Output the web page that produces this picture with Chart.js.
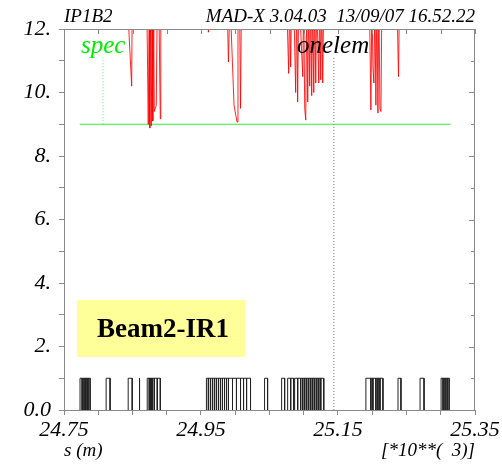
<!DOCTYPE html>
<html>
<head>
<meta charset="utf-8">
<script src="https://cdn.jsdelivr.net/npm/chart.js@4.4.0/dist/chart.umd.min.js"></script>
<style>
  html, body { margin: 0; padding: 0; background: #fff; }
  #wrap { width: 502px; height: 464px; }
</style>
</head>
<body>
<div id="wrap"><canvas id="myChart" width="502" height="464"></canvas></div>
<script>
// s axis in km (plotted as *10**3 m)
var sMin = 24.75, sMax = 25.35;
var yMin = 0, yMax = 12;

// red curve (goes off the top between the dips)
var redS = [24.75, 24.8422, 24.8488, 24.8496,
	24.8708, 24.8730, 24.8745, 24.8752, 24.8767, 24.8774, 24.8788, 24.8796, 24.8810, 24.8818, 24.8847, 24.8862, 24.8884, 24.8906, 24.8913,
	24.9594, 24.9608, 24.9623,
	24.9879, 24.9901, 24.9923, 24.9982, 25.0026, 25.0040, 25.0062, 25.0077, 25.0091, 25.0113, 25.0121, 25.0128,
	25.0750, 25.0780, 25.0794, 25.0809, 25.0824, 25.0853, 25.0882, 25.0897, 25.0911, 25.0926, 25.0955, 25.0985, 25.0999,
	25.1014, 25.1029, 25.1043, 25.1058, 25.1072, 25.1087, 25.1102, 25.1116, 25.1131, 25.1146, 25.1160, 25.1175, 25.1190,
	25.1219, 25.1234, 25.1248, 25.1263, 25.1277, 25.1292,
	25.1958, 25.1980, 25.1995, 25.2010, 25.2024, 25.2039, 25.2053, 25.2068, 25.2083, 25.2097, 25.2112, 25.2127, 25.2141,
	25.2361, 25.2383, 25.2398, 25.35];
var redY = [13, 13, 10.2, 13,
	13, 9.0, 13, 8.88, 13, 8.95, 13, 9.1, 12, 9.4, 9.6, 13, 13, 9.17, 13,
	13, 11.9, 13,
	13, 10.96, 13, 9.6, 9.07, 13, 13, 9.5, 13, 13, 12, 13,
	13, 10.6, 13, 10.8, 13, 13, 10.0, 13, 9.7, 13, 12, 10.5, 13,
	9.5, 9.13, 13, 9.7, 13, 10.2, 13, 9.9, 13, 10.0, 13, 10.3, 13,
	10.3, 13, 10.4, 13, 10.3, 13,
	13, 9.45, 13, 10.8, 10.3, 13, 9.6, 13, 9.35, 13, 9.5, 9.4, 13,
	13, 10.5, 13, 13];

// element boxes along the beam line (start / end, height 1)
var elemStart = [24.7734, 24.7771, 24.7793, 24.7815, 24.7837, 24.7851, 24.8115, 24.8437, 24.8598,
	24.8715, 24.8745, 24.8759, 24.8774, 24.8788, 24.8818, 24.8862,
	24.9579, 24.9608, 24.9638, 24.9667, 24.9696, 24.9725, 24.9755, 24.9784, 24.9813, 24.9843, 24.9872, 24.9901, 24.9960, 25.0018, 25.0077, 25.0121, 25.0165,
	25.0428,
	25.0677, 25.0765, 25.0809, 25.0867, 25.0911, 25.0955, 25.0985, 25.1014, 25.1043, 25.1072, 25.1102, 25.1131, 25.1160, 25.1190, 25.1219, 25.1248,
	25.1907, 25.1980, 25.2009, 25.2053, 25.2083, 25.2112,
	25.2376, 25.2698, 25.3005, 25.3034, 25.3063, 25.3093];
var elemEnd = [24.7764, 24.7793, 24.7815, 24.7837, 24.7851, 24.7881, 24.8173, 24.8496, 24.8605,
	24.8745, 24.8759, 24.8774, 24.8788, 24.8818, 24.8862, 24.8906,
	24.9608, 24.9638, 24.9667, 24.9696, 24.9725, 24.9755, 24.9784, 24.9813, 24.9843, 24.9872, 24.9901, 24.9960, 25.0018, 25.0077, 25.0121, 25.0165, 25.0223,
	25.0472,
	25.0721, 25.0809, 25.0853, 25.0911, 25.0955, 25.0985, 25.1014, 25.1043, 25.1072, 25.1102, 25.1131, 25.1160, 25.1190, 25.1219, 25.1248, 25.1292,
	25.1980, 25.2009, 25.2053, 25.2083, 25.2112, 25.2156,
	25.2419, 25.2756, 25.3034, 25.3063, 25.3093, 25.3122];

// green horizontal line
var greenS = [24.773, 25.314];
var greenY = [9, 9];
// marker lines
var specS = 24.807, specTop = 11.1, specBottom = 9;
var onelemS = 25.144, onelemTop = 11.1, onelemBottom = 0;

var xTickLabels = ['24.75', '24.95', '25.15', '25.35'];
var yTickLabels = ['0.0', '2.', '4.', '6.', '8.', '10.', '12.'];

function toPts(xs, ys) {
	var out = [];
	for (let i = 0; i < xs.length; i++) out.push({x: xs[i], y: ys[i]});
	return out;
}

var elemPts = [];
for (let i = 0; i < elemStart.length; i++) {
	elemPts.push({x: elemStart[i], y: 0});
	elemPts.push({x: elemStart[i], y: 1});
	elemPts.push({x: elemEnd[i], y: 1});
	elemPts.push({x: elemEnd[i], y: 0});
	elemPts.push({x: elemEnd[i], y: null});
}

var gray = '#8a8a8a';

var framePlugin = {
	id: 'frame',
	afterDraw: function(chart) {
		var c = chart.ctx, a = chart.chartArea;
		var xs = chart.scales.x, ys = chart.scales.y;
		c.save();
		c.strokeStyle = gray;
		c.lineWidth = 1;
		c.beginPath();
		c.moveTo(a.left, a.top + 0.5); c.lineTo(a.right, a.top + 0.5);
		c.moveTo(a.right - 0.5, a.top); c.lineTo(a.right - 0.5, a.bottom);
		// inward ticks, top and right
		for (let k = 0; k <= 12; k++) {
			let px = Math.round(xs.getPixelForValue(sMin + k * 0.05)) + 0.5;
			c.moveTo(px, a.top); c.lineTo(px, a.top + 5);
		}
		for (let k = 0; k <= 12; k++) {
			let py = Math.round(ys.getPixelForValue(k)) + 0.5;
			c.moveTo(a.right, py); c.lineTo(a.right - (k % 2 === 0 ? 6 : 4), py);
		}
		c.stroke();

		// header and footer texts
		c.fillStyle = '#000';
		c.font = 'italic 19px "Liberation Serif", serif';
		c.textBaseline = 'alphabetic';
		c.textAlign = 'left';
		c.fillText('IP1B2', 64, 22);
		c.textAlign = 'right';
		c.fillText('MAD-X 3.04.03  13/09/07 16.52.22', a.right, 22);
		c.textAlign = 'left';
		c.fillText('s (m)', 64, 456);
		c.textAlign = 'right';
		c.fillText('[*10**(  3)]', a.right, 456);

		// labels of marker lines
		c.font = 'italic 25px "Liberation Serif", serif';
		c.textAlign = 'left';
		c.fillStyle = '#00ee00';
		c.fillText('spec', 81, 53);
		c.fillStyle = '#000';
		c.fillText('onelem', 297, 53);

		// beam label box
		c.fillStyle = '#ffff99';
		c.fillRect(77, 300, 168, 57);
		c.fillStyle = '#000';
		c.font = 'bold 27px "Liberation Serif", serif';
		c.textAlign = 'center';
		c.textBaseline = 'middle';
		c.fillText('Beam2-IR1', 163, 330);
		c.restore();
	}
};

var ctx = document.getElementById('myChart');
var myChart = new Chart(ctx, {
	type: 'line',
	data: {
		datasets: [{
			label: 'beta',
			data: toPts(redS, redY),
			borderColor: 'rgba(255,0,0,0.85)',
			borderWidth: 1,
			pointRadius: 0
		}, {
			label: 'elements',
			data: elemPts,
			borderColor: '#222',
			borderWidth: 1,
			pointRadius: 0,
			spanGaps: false
		}, {
			label: 'green',
			data: toPts(greenS, greenY),
			borderColor: '#33ee33',
			borderWidth: 1,
			pointRadius: 0
		}, {
			label: 'spec',
			data: [{x: specS, y: specBottom}, {x: specS, y: specTop}],
			borderColor: '#66ee66',
			borderWidth: 1,
			borderDash: [1, 2],
			pointRadius: 0
		}, {
			label: 'onelem',
			data: [{x: onelemS, y: onelemBottom}, {x: onelemS, y: onelemTop}],
			borderColor: '#777',
			borderWidth: 1,
			borderDash: [1, 2],
			pointRadius: 0
		}]
	},
	options: {
		responsive: false,
		animation: false,
		events: [],
		layout: { padding: { top: 29, right: 27, left: 0, bottom: 0 } },
		plugins: { legend: { display: false }, tooltip: { enabled: false } },
		scales: {
			x: {
				type: 'linear',
				min: sMin, max: sMax,
				afterFit: function(scale) { scale.height = 54; },
				border: { color: gray },
				grid: { drawOnChartArea: false, color: gray, tickLength: 5 },
				ticks: {
					stepSize: 0.05,
					autoSkip: false,
					maxRotation: 0,
					padding: 2,
					color: '#000',
					font: { family: '"Liberation Serif", serif', style: 'italic', size: 22 },
					callback: function(v) {
						let k = Math.round((v - sMin) / 0.05);
						return k % 4 === 0 ? xTickLabels[k / 4] : '';
					}
				}
			},
			y: {
				min: yMin, max: yMax,
				afterFit: function(scale) { scale.width = 64; },
				border: { color: gray },
				grid: { drawOnChartArea: false, color: gray, tickLength: 5 },
				ticks: {
					stepSize: 1,
					autoSkip: false,
					padding: 8,
					color: '#000',
					font: { family: '"Liberation Serif", serif', style: 'italic', size: 22 },
					callback: function(v) {
						return v % 2 === 0 ? yTickLabels[v / 2] : '';
					}
				}
			}
		}
	},
	plugins: [framePlugin]
});
</script>
</body>
</html>
